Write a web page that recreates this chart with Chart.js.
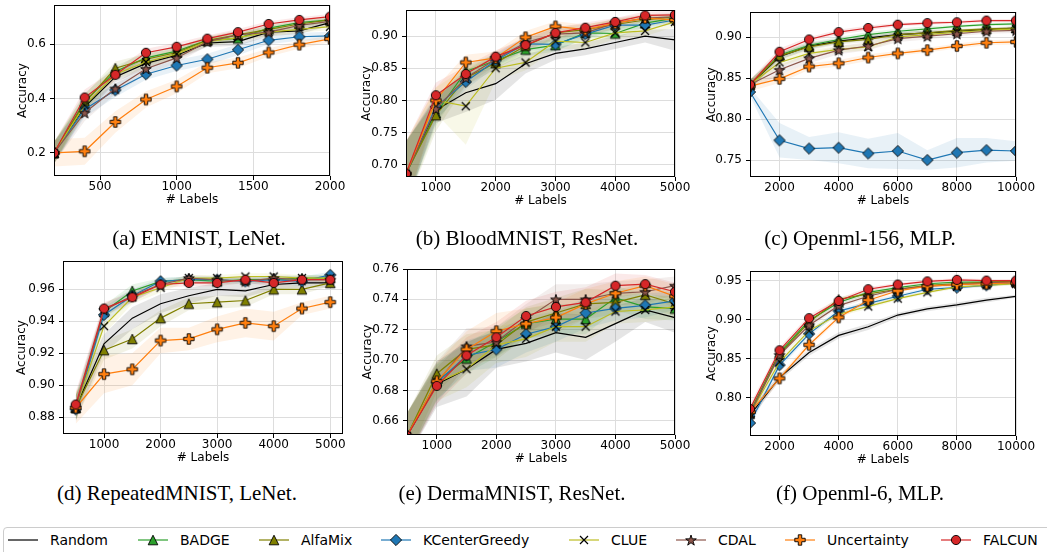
<!DOCTYPE html>
<html>
<head>
<meta charset="utf-8">
<script src="https://cdn.jsdelivr.net/npm/chart.js@4.4.1/dist/chart.umd.min.js"></script>
<style>
  html, body { margin: 0; padding: 0; background: #fff; }
  body { width: 1047px; height: 552px; overflow: hidden; position: relative; }
  canvas.plot { position: absolute; }
  .cap { position: absolute; font-family: 'Liberation Serif', 'Times New Roman', serif; font-size: 21px; line-height: 24px; white-space: nowrap; transform: translateX(-50%); color: #000; }
  #legendBox { position: absolute; left: 3px; top: 527px; width: 1060px; height: 40px; border: 1px solid #cccccc; border-radius: 4px; box-sizing: border-box; }
  .lgItem { position: absolute; top: 532px; height: 16px; }
  .lgItem canvas { position: absolute; left: 0; top: 0; }
  .lgItem span { position: absolute; left: 42px; top: 0; font-family: 'DejaVu Sans', sans-serif; font-size: 14px; line-height: 16px; white-space: nowrap; color: #000; }
</style>
</head>
<body>
<script>
// ---------------- DATA ----------------
const seriesNames = ['Random', 'BADGE', 'AlfaMix', 'KCenterGreedy', 'CLUE', 'CDAL', 'Uncertainty', 'FALCUN'];

// (a) EMNIST, LeNet.
const emnistX = [200, 400, 600, 800, 1000, 1200, 1400, 1600, 1800, 2000];
const emnistXTicks = [500, 1000, 1500, 2000];
const emnistXLabels = ['500', '1000', '1500', '2000'];
const emnistYTicks = [0.2, 0.4, 0.6];
const emnistYLabels = ['0.2', '0.4', '0.6'];
const emnistRandom = [0.200, 0.370, 0.480, 0.530, 0.560, 0.605, 0.610, 0.645, 0.650, 0.680];
const emnistBADGE = [0.200, 0.390, 0.500, 0.550, 0.575, 0.615, 0.622, 0.660, 0.680, 0.690];
const emnistAlfaMix = [0.200, 0.385, 0.512, 0.545, 0.570, 0.615, 0.635, 0.655, 0.675, 0.690];
const emnistKCenter = [0.200, 0.361, 0.431, 0.490, 0.522, 0.545, 0.580, 0.615, 0.628, 0.631];
const emnistCLUE = [0.200, 0.375, 0.490, 0.535, 0.565, 0.610, 0.625, 0.645, 0.655, 0.665];
const emnistCDAL = [0.200, 0.348, 0.437, 0.510, 0.550, 0.610, 0.635, 0.645, 0.670, 0.685];
const emnistUncertainty = [0.200, 0.206, 0.314, 0.397, 0.445, 0.514, 0.532, 0.570, 0.599, 0.620];
const emnistFALCUN = [0.200, 0.404, 0.488, 0.569, 0.591, 0.621, 0.645, 0.675, 0.690, 0.702];
const emnistRandomStd = [0.040, 0.030, 0.020, 0.020, 0.015, 0.015, 0.015, 0.015, 0.012, 0.012];
const emnistBADGEStd = [0.040, 0.030, 0.020, 0.020, 0.015, 0.015, 0.015, 0.012, 0.012, 0.010];
const emnistAlfaMixStd = [0.040, 0.030, 0.025, 0.020, 0.015, 0.015, 0.015, 0.012, 0.012, 0.010];
const emnistKCenterStd = [0.040, 0.030, 0.025, 0.020, 0.020, 0.020, 0.020, 0.015, 0.015, 0.015];
const emnistCLUEStd = [0.040, 0.030, 0.020, 0.020, 0.015, 0.015, 0.015, 0.015, 0.012, 0.012];
const emnistCDALStd = [0.040, 0.030, 0.020, 0.020, 0.020, 0.015, 0.015, 0.015, 0.012, 0.012];
const emnistUncertaintyStd = [0.050, 0.050, 0.040, 0.030, 0.025, 0.020, 0.020, 0.015, 0.015, 0.012];
const emnistFALCUNStd = [0.040, 0.030, 0.020, 0.015, 0.015, 0.012, 0.012, 0.010, 0.010, 0.010];

// (b) BloodMNIST, ResNet.
const bloodX = [500, 1000, 1500, 2000, 2500, 3000, 3500, 4000, 4500, 5000];
const bloodXTicks = [1000, 2000, 3000, 4000, 5000];
const bloodXLabels = ['1000', '2000', '3000', '4000', '5000'];
const bloodYTicks = [0.70, 0.75, 0.80, 0.85, 0.90];
const bloodYLabels = ['0.70', '0.75', '0.80', '0.85', '0.90'];
const bloodRandom = [0.686, 0.785, 0.812, 0.826, 0.857, 0.873, 0.880, 0.890, 0.900, 0.894];
const bloodBADGE = [0.686, 0.780, 0.845, 0.862, 0.879, 0.886, 0.905, 0.904, 0.920, 0.928];
const bloodAlfaMix = [0.686, 0.777, 0.835, 0.858, 0.885, 0.905, 0.910, 0.918, 0.925, 0.930];
const bloodKCenter = [0.686, 0.790, 0.829, 0.862, 0.888, 0.887, 0.903, 0.917, 0.917, 0.925];
const bloodCLUE = [0.686, 0.800, 0.791, 0.850, 0.859, 0.892, 0.890, 0.905, 0.908, 0.922];
const bloodCDAL = [0.686, 0.787, 0.835, 0.864, 0.890, 0.903, 0.905, 0.920, 0.928, 0.930];
const bloodUncertainty = [0.686, 0.800, 0.859, 0.866, 0.898, 0.915, 0.910, 0.920, 0.928, 0.925];
const bloodFALCUN = [0.686, 0.808, 0.841, 0.868, 0.886, 0.905, 0.913, 0.922, 0.932, 0.933];
const bloodRandomStd = [0.050, 0.020, 0.030, 0.025, 0.015, 0.010, 0.010, 0.010, 0.010, 0.017];
const bloodBADGEStd = [0.050, 0.020, 0.010, 0.010, 0.010, 0.010, 0.008, 0.008, 0.006, 0.006];
const bloodAlfaMixStd = [0.050, 0.025, 0.012, 0.010, 0.010, 0.010, 0.008, 0.008, 0.006, 0.006];
const bloodKCenterStd = [0.050, 0.020, 0.012, 0.010, 0.010, 0.010, 0.008, 0.008, 0.006, 0.006];
const bloodCLUEStd = [0.050, 0.020, 0.060, 0.020, 0.012, 0.012, 0.010, 0.010, 0.008, 0.008];
const bloodCDALStd = [0.050, 0.020, 0.012, 0.010, 0.010, 0.010, 0.008, 0.008, 0.006, 0.006];
const bloodUncertaintyStd = [0.050, 0.020, 0.012, 0.010, 0.010, 0.008, 0.008, 0.006, 0.006, 0.006];
const bloodFALCUNStd = [0.050, 0.020, 0.012, 0.010, 0.010, 0.008, 0.008, 0.006, 0.006, 0.006];

// (c) Openml-156, MLP.
const o156X = [1000, 2000, 3000, 4000, 5000, 6000, 7000, 8000, 9000, 10000];
const o156XTicks = [2000, 4000, 6000, 8000, 10000];
const o156XLabels = ['2000', '4000', '6000', '8000', '10000'];
const o156YTicks = [0.75, 0.80, 0.85, 0.90];
const o156YLabels = ['0.75', '0.80', '0.85', '0.90'];
const o156Random = [0.842, 0.876, 0.889, 0.895, 0.899, 0.903, 0.905, 0.907, 0.909, 0.911];
const o156BADGE = [0.842, 0.878, 0.890, 0.897, 0.903, 0.907, 0.910, 0.913, 0.915, 0.916];
const o156AlfaMix = [0.842, 0.877, 0.888, 0.894, 0.897, 0.903, 0.905, 0.908, 0.910, 0.911];
const o156KCenter = [0.833, 0.774, 0.764, 0.765, 0.758, 0.761, 0.750, 0.759, 0.762, 0.761];
const o156CLUE = [0.842, 0.869, 0.880, 0.885, 0.888, 0.900, 0.903, 0.906, 0.908, 0.910];
const o156CDAL = [0.842, 0.860, 0.874, 0.884, 0.889, 0.898, 0.901, 0.904, 0.907, 0.908];
const o156Uncertainty = [0.840, 0.849, 0.864, 0.868, 0.875, 0.880, 0.884, 0.889, 0.893, 0.894];
const o156FALCUN = [0.842, 0.882, 0.897, 0.906, 0.911, 0.915, 0.917, 0.918, 0.920, 0.920];
const o156RandomStd = [0.006, 0.004, 0.004, 0.003, 0.003, 0.003, 0.003, 0.002, 0.002, 0.002];
const o156BADGEStd = [0.006, 0.004, 0.004, 0.003, 0.003, 0.003, 0.003, 0.002, 0.002, 0.002];
const o156AlfaMixStd = [0.006, 0.004, 0.004, 0.003, 0.003, 0.003, 0.003, 0.002, 0.002, 0.002];
const o156KCenterStd = [0.005, 0.021, 0.014, 0.019, 0.018, 0.022, 0.012, 0.018, 0.015, 0.012];
const o156CLUEStd = [0.006, 0.005, 0.004, 0.004, 0.004, 0.003, 0.003, 0.002, 0.002, 0.002];
const o156CDALStd = [0.006, 0.006, 0.006, 0.005, 0.005, 0.004, 0.004, 0.003, 0.003, 0.003];
const o156UncertaintyStd = [0.006, 0.005, 0.004, 0.004, 0.004, 0.003, 0.003, 0.003, 0.003, 0.003];
const o156FALCUNStd = [0.006, 0.004, 0.003, 0.003, 0.003, 0.002, 0.002, 0.002, 0.002, 0.002];

// (d) RepeatedMNIST, LeNet.
const repX = [500, 1000, 1500, 2000, 2500, 3000, 3500, 4000, 4500, 5000];
const repXTicks = [1000, 2000, 3000, 4000, 5000];
const repXLabels = ['1000', '2000', '3000', '4000', '5000'];
const repYTicks = [0.88, 0.90, 0.92, 0.94, 0.96];
const repYLabels = ['0.88', '0.90', '0.92', '0.94', '0.96'];
const repRandom = [0.886, 0.926, 0.942, 0.951, 0.956, 0.960, 0.959, 0.963, 0.964, 0.964];
const repBADGE = [0.886, 0.946, 0.959, 0.965, 0.966, 0.965, 0.966, 0.966, 0.967, 0.967];
const repAlfaMix = [0.886, 0.922, 0.929, 0.942, 0.951, 0.952, 0.953, 0.960, 0.960, 0.964];
const repKCenter = [0.885, 0.944, 0.956, 0.965, 0.966, 0.966, 0.965, 0.966, 0.965, 0.969];
const repCLUE = [0.886, 0.937, 0.955, 0.961, 0.967, 0.967, 0.968, 0.968, 0.967, 0.967];
const repCDAL = [0.886, 0.947, 0.956, 0.963, 0.967, 0.966, 0.965, 0.967, 0.966, 0.966];
const repUncertainty = [0.886, 0.907, 0.910, 0.928, 0.929, 0.935, 0.939, 0.937, 0.948, 0.952];
const repFALCUN = [0.888, 0.948, 0.955, 0.963, 0.964, 0.964, 0.966, 0.964, 0.966, 0.966];
const repRandomStd = [0.008, 0.006, 0.007, 0.006, 0.005, 0.004, 0.004, 0.003, 0.003, 0.003];
const repBADGEStd = [0.008, 0.004, 0.004, 0.002, 0.002, 0.002, 0.002, 0.002, 0.002, 0.002];
const repAlfaMixStd = [0.008, 0.006, 0.006, 0.005, 0.004, 0.004, 0.004, 0.003, 0.003, 0.002];
const repKCenterStd = [0.008, 0.005, 0.004, 0.002, 0.002, 0.002, 0.002, 0.002, 0.003, 0.002];
const repCLUEStd = [0.008, 0.005, 0.004, 0.003, 0.002, 0.002, 0.002, 0.002, 0.002, 0.002];
const repCDALStd = [0.008, 0.004, 0.004, 0.002, 0.002, 0.002, 0.002, 0.002, 0.002, 0.002];
const repUncertaintyStd = [0.010, 0.012, 0.010, 0.008, 0.007, 0.008, 0.009, 0.009, 0.004, 0.004];
const repFALCUNStd = [0.008, 0.004, 0.003, 0.002, 0.002, 0.002, 0.002, 0.002, 0.002, 0.002];

// (e) DermaMNIST, ResNet.
const dermaX = [500, 1000, 1500, 2000, 2500, 3000, 3500, 4000, 4500, 5000];
const dermaXTicks = [1000, 2000, 3000, 4000, 5000];
const dermaXLabels = ['1000', '2000', '3000', '4000', '5000'];
const dermaYTicks = [0.66, 0.68, 0.70, 0.72, 0.74, 0.76];
const dermaYLabels = ['0.66', '0.68', '0.70', '0.72', '0.74', '0.76'];
const dermaRandom = [0.650, 0.684, 0.694, 0.707, 0.711, 0.718, 0.715, 0.724, 0.733, 0.728];
const dermaBADGE = [0.650, 0.686, 0.701, 0.712, 0.724, 0.727, 0.727, 0.741, 0.735, 0.734];
const dermaAlfaMix = [0.650, 0.691, 0.707, 0.710, 0.725, 0.731, 0.737, 0.738, 0.743, 0.737];
const dermaKCenter = [0.650, 0.685, 0.703, 0.707, 0.717, 0.722, 0.731, 0.734, 0.736, 0.739];
const dermaCLUE = [0.650, 0.685, 0.694, 0.710, 0.714, 0.722, 0.722, 0.732, 0.733, 0.735];
const dermaCDAL = [0.650, 0.685, 0.709, 0.712, 0.727, 0.740, 0.740, 0.744, 0.745, 0.749];
const dermaUncertainty = [0.650, 0.686, 0.707, 0.719, 0.724, 0.728, 0.737, 0.744, 0.749, 0.742];
const dermaFALCUN = [0.650, 0.683, 0.703, 0.715, 0.729, 0.735, 0.738, 0.749, 0.750, 0.745];
const dermaRandomStd = [0.015, 0.015, 0.018, 0.012, 0.012, 0.013, 0.015, 0.012, 0.008, 0.010];
const dermaBADGEStd = [0.015, 0.012, 0.010, 0.010, 0.010, 0.010, 0.010, 0.008, 0.008, 0.008];
const dermaAlfaMixStd = [0.015, 0.012, 0.010, 0.010, 0.010, 0.010, 0.010, 0.008, 0.008, 0.008];
const dermaKCenterStd = [0.015, 0.012, 0.010, 0.012, 0.012, 0.010, 0.010, 0.008, 0.008, 0.006];
const dermaCLUEStd = [0.015, 0.012, 0.012, 0.012, 0.012, 0.010, 0.010, 0.008, 0.008, 0.008];
const dermaCDALStd = [0.015, 0.014, 0.012, 0.010, 0.010, 0.010, 0.010, 0.008, 0.008, 0.006];
const dermaUncertaintyStd = [0.015, 0.012, 0.012, 0.012, 0.010, 0.010, 0.010, 0.008, 0.006, 0.008];
const dermaFALCUNStd = [0.015, 0.012, 0.012, 0.010, 0.010, 0.010, 0.010, 0.008, 0.006, 0.006];

// (f) Openml-6, MLP.
const o6X = [1000, 2000, 3000, 4000, 5000, 6000, 7000, 8000, 9000, 10000];
const o6XTicks = [2000, 4000, 6000, 8000, 10000];
const o6XLabels = ['2000', '4000', '6000', '8000', '10000'];
const o6YTicks = [0.80, 0.85, 0.90, 0.95];
const o6YLabels = ['0.80', '0.85', '0.90', '0.95'];
const o6Random = [0.778, 0.826, 0.858, 0.880, 0.891, 0.906, 0.914, 0.919, 0.925, 0.930];
const o6BADGE = [0.782, 0.858, 0.899, 0.922, 0.935, 0.941, 0.946, 0.948, 0.948, 0.949];
const o6AlfaMix = [0.780, 0.856, 0.897, 0.926, 0.933, 0.939, 0.944, 0.946, 0.948, 0.949];
const o6KCenter = [0.768, 0.842, 0.882, 0.911, 0.921, 0.930, 0.939, 0.941, 0.944, 0.947];
const o6CLUE = [0.780, 0.846, 0.886, 0.907, 0.917, 0.927, 0.935, 0.942, 0.944, 0.946];
const o6CDAL = [0.780, 0.855, 0.893, 0.918, 0.930, 0.939, 0.943, 0.945, 0.947, 0.948];
const o6Uncertainty = [0.782, 0.825, 0.868, 0.903, 0.925, 0.937, 0.943, 0.945, 0.946, 0.947];
const o6FALCUN = [0.786, 0.861, 0.902, 0.924, 0.939, 0.945, 0.949, 0.951, 0.950, 0.950];
const o6RandomStd = [0.006, 0.004, 0.004, 0.004, 0.004, 0.003, 0.003, 0.003, 0.003, 0.002];
const o6BADGEStd = [0.006, 0.004, 0.004, 0.003, 0.003, 0.002, 0.002, 0.002, 0.002, 0.002];
const o6AlfaMixStd = [0.006, 0.004, 0.004, 0.003, 0.003, 0.002, 0.002, 0.002, 0.002, 0.002];
const o6KCenterStd = [0.006, 0.004, 0.004, 0.003, 0.003, 0.003, 0.002, 0.002, 0.002, 0.002];
const o6CLUEStd = [0.006, 0.004, 0.004, 0.003, 0.003, 0.002, 0.002, 0.002, 0.002, 0.002];
const o6CDALStd = [0.006, 0.004, 0.004, 0.003, 0.003, 0.002, 0.002, 0.002, 0.002, 0.002];
const o6UncertaintyStd = [0.006, 0.004, 0.004, 0.003, 0.003, 0.002, 0.002, 0.002, 0.002, 0.002];
const o6FALCUNStd = [0.006, 0.004, 0.004, 0.003, 0.003, 0.002, 0.002, 0.002, 0.002, 0.002];

// ---------------- STYLE / LAYOUT ----------------
const seriesColors = ['#000000', '#2ca02c', '#808000', '#1f77b4', '#bcbd22', '#8c564b', '#ff7f0e', '#d62728'];
const bandColors = ['rgba(0,0,0,0.10)', 'rgba(44,160,44,0.10)', 'rgba(128,128,0,0.10)', 'rgba(31,119,180,0.10)',
                    'rgba(188,189,34,0.10)', 'rgba(140,86,75,0.10)', 'rgba(255,127,14,0.10)', 'rgba(214,39,40,0.10)'];
const markerKinds = [null, 'triangle', 'triangle', 'diamond', 'x', 'star', 'plus', 'circle'];
const markerFills = [null, '#2ca02c', '#808000', '#1f77b4', '#000000', '#8c564b', '#ff7f0e', '#d62728'];

function makeMarker(kind, fill) {
  const S = 16;
  const c = document.createElement('canvas');
  c.width = S; c.height = S;
  const g = c.getContext('2d');
  g.translate(S / 2, S / 2);
  g.lineWidth = 0.9;
  g.strokeStyle = '#000';
  g.fillStyle = fill;
  g.lineJoin = 'miter';
  g.beginPath();
  if (kind === 'circle') {
    g.arc(0, 0, 4.6, 0, Math.PI * 2);
  } else if (kind === 'triangle') {
    const r = 4.8;
    g.moveTo(0, -r); g.lineTo(r, r); g.lineTo(-r, r); g.closePath();
  } else if (kind === 'diamond') {
    const r = 5.6;
    g.moveTo(0, -r); g.lineTo(r, 0); g.lineTo(0, r); g.lineTo(-r, 0); g.closePath();
  } else if (kind === 'star') {
    const R = 5.6, ri = R * 0.382;
    for (let k = 0; k < 10; k++) {
      const rr = k % 2 === 0 ? R : ri;
      const a = -Math.PI / 2 + k * Math.PI / 5;
      const px = rr * Math.cos(a), py = rr * Math.sin(a) + 0.6;
      if (k === 0) g.moveTo(px, py); else g.lineTo(px, py);
    }
    g.closePath();
  } else if (kind === 'plus') {
    const r = 5.2, w = r / 3;
    g.moveTo(-w, -r); g.lineTo(w, -r); g.lineTo(w, -w); g.lineTo(r, -w); g.lineTo(r, w); g.lineTo(w, w);
    g.lineTo(w, r); g.lineTo(-w, r); g.lineTo(-w, w); g.lineTo(-r, w); g.lineTo(-r, -w); g.lineTo(-w, -w);
    g.closePath();
  } else if (kind === 'x') {
    const r = 4.0;
    g.lineWidth = 1.2;
    g.moveTo(-r, -r); g.lineTo(r, r); g.moveTo(r, -r); g.lineTo(-r, r);
    g.stroke();
    return c;
  }
  g.fill();
  g.stroke();
  return c;
}
const markers = markerKinds.map((k, i) => k ? makeMarker(k, markerFills[i]) : null);

Chart.defaults.font.family = "'DejaVu Sans', sans-serif";
Chart.defaults.font.size = 12;
Chart.defaults.color = '#000';

const framePlugin = {
  id: 'frame',
  afterDatasetsDraw(chart) {
    const a = chart.chartArea, ctx = chart.ctx;
    ctx.save();
    ctx.strokeStyle = '#000';
    ctx.lineWidth = 1;
    const l = Math.round(a.left), t = Math.round(a.top), r = Math.round(a.right), b = Math.round(a.bottom);
    ctx.strokeRect(l + 0.5, t + 0.5, r - l - 1, b - t - 1);
    ctx.restore();
  }
};

const Y_W = 50, X_H = 40, PAD_T = 12, PAD_R = 32;

const panels = [
  { rect: [54, 5, 330, 176], x: emnistX, xr: [200, 2000], yr: [0.115, 0.745], xt: emnistXTicks, xl: emnistXLabels, yt: emnistYTicks, yl: emnistYLabels,
    means: [emnistRandom, emnistBADGE, emnistAlfaMix, emnistKCenter, emnistCLUE, emnistCDAL, emnistUncertainty, emnistFALCUN],
    stds: [emnistRandomStd, emnistBADGEStd, emnistAlfaMixStd, emnistKCenterStd, emnistCLUEStd, emnistCDALStd, emnistUncertaintyStd, emnistFALCUNStd], yOff: 31.6 },
  { rect: [406, 10, 675, 177], x: bloodX, xr: [500, 5000], yr: [0.681, 0.9405], xt: bloodXTicks, xl: bloodXLabels, yt: bloodYTicks, yl: bloodYLabels,
    means: [bloodRandom, bloodBADGE, bloodAlfaMix, bloodKCenter, bloodCLUE, bloodCDAL, bloodUncertainty, bloodFALCUN],
    stds: [bloodRandomStd, bloodBADGEStd, bloodAlfaMixStd, bloodKCenterStd, bloodCLUEStd, bloodCDALStd, bloodUncertaintyStd, bloodFALCUNStd], yOff: 38.7 },
  { rect: [750, 12, 1016, 177], x: o156X, xr: [1000, 10000], yr: [0.7293, 0.9305], xt: o156XTicks, xl: o156XLabels, yt: o156YTicks, yl: o156YLabels,
    means: [o156Random, o156BADGE, o156AlfaMix, o156KCenter, o156CLUE, o156CDAL, o156Uncertainty, o156FALCUN],
    stds: [o156RandomStd, o156BADGEStd, o156AlfaMixStd, o156KCenterStd, o156CLUEStd, o156CDALStd, o156UncertaintyStd, o156FALCUNStd], yOff: 38.6 },
  { rect: [63, 261, 343, 434], x: repX, xr: [275, 5225], yr: [0.8696, 0.9777], xt: repXTicks, xl: repXLabels, yt: repYTicks, yl: repYLabels,
    means: [repRandom, repBADGE, repAlfaMix, repKCenter, repCLUE, repCDAL, repUncertainty, repFALCUN],
    stds: [repRandomStd, repBADGEStd, repAlfaMixStd, repKCenterStd, repCLUEStd, repCDALStd, repUncertaintyStd, repFALCUNStd], yOff: 41.6 },
  { rect: [407, 269, 675, 435], x: dermaX, xr: [500, 5000], yr: [0.6506, 0.76], xt: dermaXTicks, xl: dermaXLabels, yt: dermaYTicks, yl: dermaYLabels,
    means: [dermaRandom, dermaBADGE, dermaAlfaMix, dermaKCenter, dermaCLUE, dermaCDAL, dermaUncertainty, dermaFALCUN],
    stds: [dermaRandomStd, dermaBADGEStd, dermaAlfaMixStd, dermaKCenterStd, dermaCLUEStd, dermaCDALStd, dermaUncertaintyStd, dermaFALCUNStd], yOff: 39.4 },
  { rect: [750, 271, 1016, 436], x: o6X, xr: [1000, 10000], yr: [0.7514, 0.9623], xt: o6XTicks, xl: o6XLabels, yt: o6YTicks, yl: o6YLabels,
    means: [o6Random, o6BADGE, o6AlfaMix, o6KCenter, o6CLUE, o6CDAL, o6Uncertainty, o6FALCUN],
    stds: [o6RandomStd, o6BADGEStd, o6AlfaMixStd, o6KCenterStd, o6CLUEStd, o6CDALStd, o6UncertaintyStd, o6FALCUNStd], yOff: 38.6 }
];

const captions = [
  { text: '(a) EMNIST, LeNet.', cx: 199, top: 226 },
  { text: '(b) BloodMNIST, ResNet.', cx: 527, top: 226 },
  { text: '(c) Openml-156, MLP.', cx: 860, top: 226 },
  { text: '(d) RepeatedMNIST, LeNet.', cx: 177, top: 481 },
  { text: '(e) DermaMNIST, ResNet.', cx: 512, top: 481 },
  { text: '(f) Openml-6, MLP.', cx: 860, top: 481 }
];
const legendLeft = [8, 138, 259, 381, 569, 676, 785, 941];

function buildDatasets(p) {
  const ds = [];
  p.means.forEach((m, i) => {
    const s = p.stds[i];
    ds.push({ data: m.map((v, j) => ({ x: p.x[j], y: v + s[j] })), borderColor: 'rgba(0,0,0,0)', borderWidth: 0,
              pointRadius: 0, fill: false, order: 100, clip: 0 });
    ds.push({ data: m.map((v, j) => ({ x: p.x[j], y: v - s[j] })), borderColor: 'rgba(0,0,0,0)', borderWidth: 0,
              pointRadius: 0, fill: '-1', backgroundColor: bandColors[i], order: 100, clip: 0 });
    ds.push({ data: m.map((v, j) => ({ x: p.x[j], y: v })), borderColor: seriesColors[i], borderWidth: 1.2,
              pointStyle: markers[i] || false, pointRadius: markers[i] ? 5 : 0, pointHoverRadius: markers[i] ? 5 : 0,
              fill: false, order: 8 - i, clip: 0 });
  });
  return ds;
}

panels.forEach((p) => {
  const [l, t, r, b] = p.rect;
  const cv = document.createElement('canvas');
  cv.className = 'plot';
  const W = (r - l) + Y_W + PAD_R, H = (b - t) + PAD_T + X_H;
  cv.width = W; cv.height = H;
  cv.style.left = (l - Y_W) + 'px';
  cv.style.top = (t - PAD_T) + 'px';
  cv.style.width = W + 'px'; cv.style.height = H + 'px';
  document.body.appendChild(cv);
  const lh = 12 * 1.2;
  new Chart(cv, {
    type: 'line',
    data: { datasets: buildDatasets(p) },
    plugins: [framePlugin],
    options: {
      responsive: false, animation: false, devicePixelRatio: 1,
      layout: { padding: { left: 0, top: PAD_T, right: PAD_R, bottom: 0 } },
      plugins: { legend: { display: false }, tooltip: { enabled: false } },
      events: [],
      scales: {
        x: {
          type: 'linear', position: 'bottom', min: p.xr[0], max: p.xr[1],
          afterBuildTicks: (ax) => { ax.ticks = p.xt.map(v => ({ value: v })); },
          afterFit: (ax) => { ax.height = X_H; },
          ticks: { autoSkip: false, maxRotation: 0, padding: 0, font: { size: 12 }, color: '#000',
                   callback: (v, idx) => p.xl[idx] },
          grid: { color: '#dddddd', lineWidth: 1, tickColor: '#000', tickLength: 4, drawTicks: true },
          border: { display: false },
          title: { display: true, text: '# Labels', font: { size: 12 }, color: '#000', padding: { top: 0, bottom: 8.8 } }
        },
        y: {
          type: 'linear', position: 'left', min: p.yr[0], max: p.yr[1],
          afterBuildTicks: (ax) => { ax.ticks = p.yt.map(v => ({ value: v })); },
          afterFit: (ax) => { ax.width = Y_W; },
          ticks: { autoSkip: false, padding: 4, font: { size: 12 }, color: '#000',
                   callback: (v, idx) => p.yl[idx] },
          grid: { color: '#dddddd', lineWidth: 1, tickColor: '#000', tickLength: 4, drawTicks: true },
          border: { display: false },
          title: { display: true, text: 'Accuracy', font: { size: 12 }, color: '#000',
                   padding: { top: Y_W - p.yOff - lh / 2, bottom: 0 } }
        }
      }
    }
  });
});

captions.forEach((c) => {
  const d = document.createElement('div');
  d.className = 'cap';
  d.textContent = c.text;
  d.style.left = c.cx + 'px';
  d.style.top = c.top + 'px';
  document.body.appendChild(d);
});

const box = document.createElement('div');
box.id = 'legendBox';
document.body.appendChild(box);
seriesNames.forEach((name, i) => {
  const item = document.createElement('div');
  item.className = 'lgItem';
  item.style.left = legendLeft[i] + 'px';
  const c = document.createElement('canvas');
  c.width = 30; c.height = 16;
  const g = c.getContext('2d');
  g.strokeStyle = seriesColors[i];
  g.lineWidth = 1.2;
  g.beginPath(); g.moveTo(0, 8); g.lineTo(30, 8); g.stroke();
  if (markers[i]) g.drawImage(markers[i], 15 - 8, 8 - 8);
  item.appendChild(c);
  const sp = document.createElement('span');
  sp.textContent = name;
  item.appendChild(sp);
  document.body.appendChild(item);
});
</script>
</body>
</html>
